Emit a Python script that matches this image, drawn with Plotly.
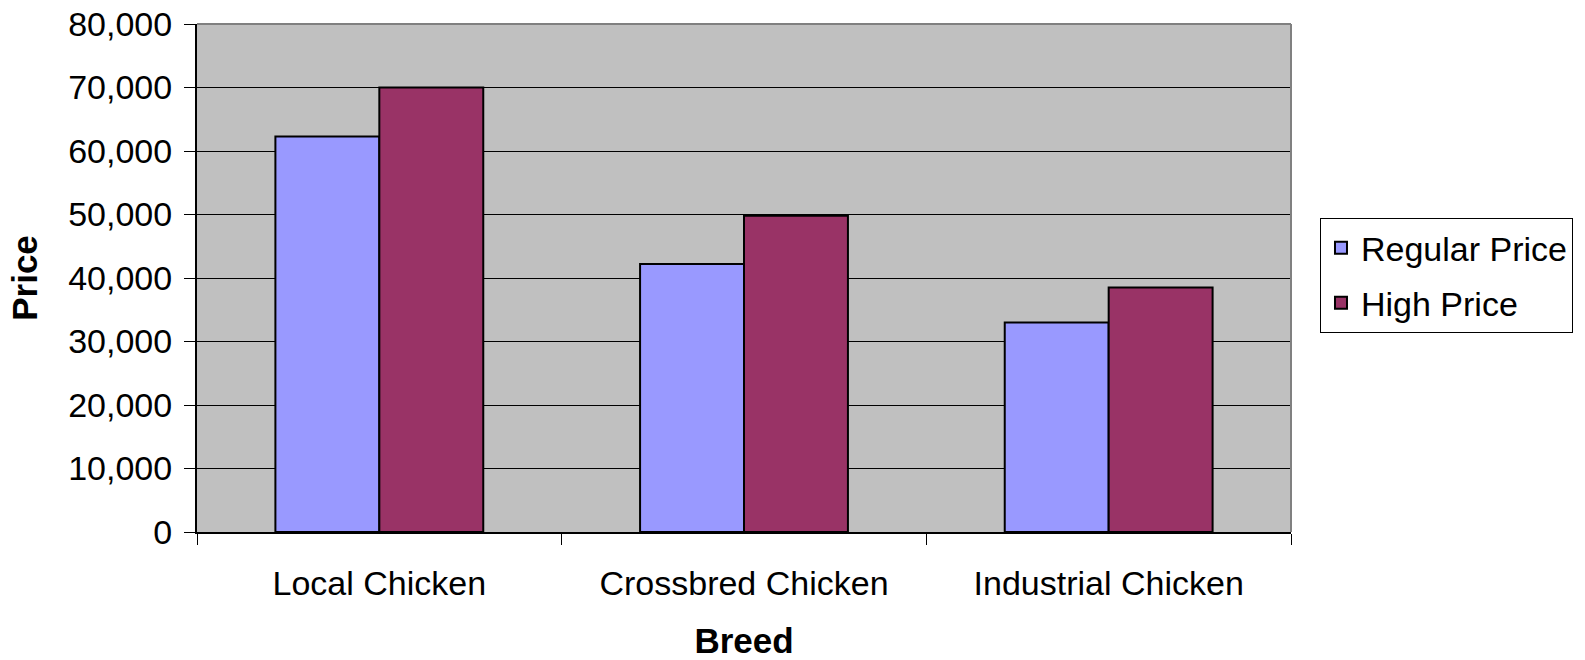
import plotly.graph_objects as go

# Price per breed
breeds = ["Local Chicken", "Crossbred Chicken", "Industrial Chicken"]
regular_price = [62300, 42200, 33000]
high_price = [70000, 49800, 38500]

FONT = "Liberation Sans, Arial, sans-serif"

fig = go.Figure()
fig.add_trace(go.Bar(
    name="Regular Price", x=breeds, y=regular_price,
    marker=dict(color="#9999FF", line=dict(color="black", width=2)),
    legendgroup="a",
))
fig.add_trace(go.Bar(
    name="High Price", x=breeds, y=high_price,
    marker=dict(color="#993366", line=dict(color="black", width=2)),
    legendgroup="b",
))

fig.update_layout(
    width=1585, height=660,
    margin=dict(l=197, r=292, t=24, b=128, pad=0),
    paper_bgcolor="white",
    plot_bgcolor="#C0C0C0",
    barmode="group",
    bargap=0.43,
    bargroupgap=0,
    font=dict(family=FONT, size=34, color="black"),
    showlegend=True,
    legend=dict(
        x=1.0265, y=0.618, xanchor="left", yanchor="top",
        bgcolor="white", bordercolor="black", borderwidth=1,
        font=dict(family=FONT, size=34, color="black"),
        traceorder="grouped", tracegroupgap=8,
    ),
)

fig.update_xaxes(
    type="category",
    automargin=False,
    tickson="boundaries",
    ticks="outside", ticklen=11, tickcolor="black", tickwidth=1,
    showline=True, linecolor="black", linewidth=2,
    showgrid=False,
    tickfont=dict(family=FONT, size=34),
    ticklabelstandoff=20,
    title=dict(text="<b>Breed</b>", font=dict(family=FONT, size=35), standoff=30),
)
fig.update_yaxes(
    range=[0, 80000], dtick=10000, tickformat=",",
    automargin=False,
    ticks="outside", ticklen=11, tickcolor="black", tickwidth=1,
    showline=True, linecolor="black", linewidth=2,
    showgrid=True, gridcolor="black", gridwidth=1,
    zeroline=False,
    tickfont=dict(family=FONT, size=34),
    ticklabelstandoff=5,
    title=dict(text="<b>Price</b>", font=dict(family=FONT, size=35), standoff=20),
)

# Grey frame on the top and right sides of the plot area
fig.add_shape(type="line", xref="paper", yref="paper", x0=0, x1=1, y0=1, y1=1,
              line=dict(color="#808080", width=2), layer="above")
fig.add_shape(type="line", xref="paper", yref="paper", x0=1, x1=1, y0=0, y1=1,
              line=dict(color="#808080", width=2), layer="above")

fig.write_html("out.html")
